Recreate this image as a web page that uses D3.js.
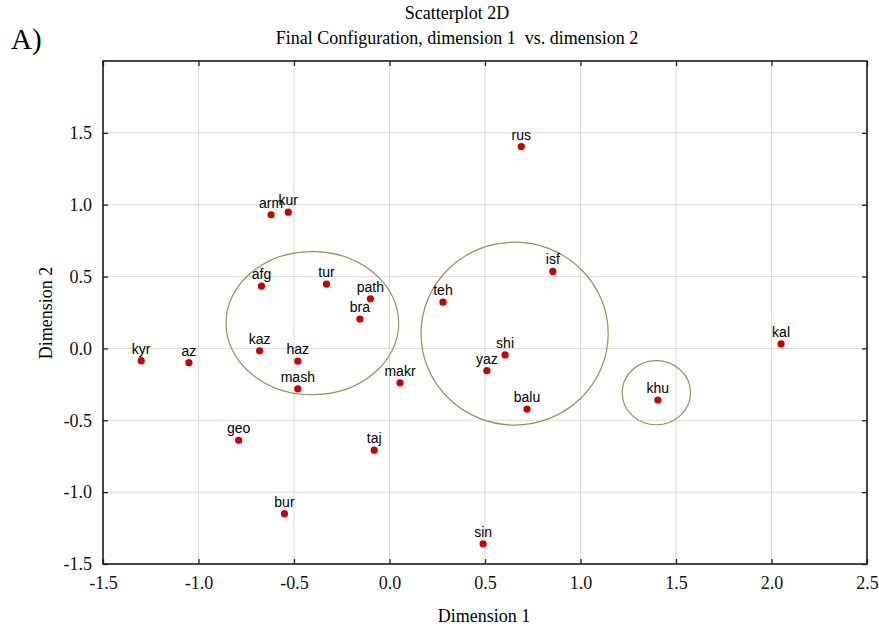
<!DOCTYPE html>
<html>
<head>
<meta charset="utf-8">
<script src="https://cdn.jsdelivr.net/npm/d3@7"></script>
<style>
  body { margin: 0; background: #fff; }
  svg { display: block; }
</style>
</head>
<body>
<script>
// point labels and coordinates
const names = ["rus", "arm", "kur", "afg", "tur", "path", "bra", "kaz", "haz", "mash",
               "makr", "kyr", "az", "geo", "taj", "bur", "sin", "teh", "isf", "shi",
               "yaz", "balu", "khu", "kal"];
const dim1 = [0.69, -0.62, -0.53, -0.67, -0.33, -0.10, -0.155, -0.68, -0.48, -0.48,
              0.055, -1.30, -1.05, -0.79, -0.08, -0.55, 0.49, 0.28, 0.855, 0.605,
              0.51, 0.72, 1.405, 2.05];
const dim2 = [1.405, 0.93, 0.948, 0.434, 0.448, 0.345, 0.204, -0.017, -0.089, -0.281,
              -0.239, -0.085, -0.099, -0.639, -0.708, -1.15, -1.359, 0.322, 0.536, -0.045,
              -0.155, -0.422, -0.359, 0.031];

// group ellipses (centre and radii in data units)
const groupCx = [-0.404, 0.655, 1.397];
const groupCy = [0.176, 0.103, -0.308];
const groupRx = [0.452, 0.490, 0.179];
const groupRy = [0.498, 0.636, 0.223];

const xTicks = [-1.5, -1.0, -0.5, 0.0, 0.5, 1.0, 1.5, 2.0, 2.5];
const yTicks = [-1.5, -1.0, -0.5, 0.0, 0.5, 1.0, 1.5];

const W = 879, H = 626;
const margin = { top: 61, right: 12, bottom: 62, left: 103 },
      width = 867 - margin.left,
      height = 564 - margin.top;

const svg = d3.select("body").append("svg")
    .attr("width", W)
    .attr("height", H);

const g = svg.append("g")
    .attr("transform", `translate(${margin.left},${margin.top})`);

const x = d3.scaleLinear().domain([-1.5, 2.5]).range([0, width]);
const y = d3.scaleLinear().domain([-1.5, 2.0]).range([height, 0]);

const serif = "'Liberation Serif', 'Times New Roman', serif";
const sans = "'Liberation Sans', Arial, sans-serif";
// plain hyphen for negatives, like the original
const fmt = d => d3.format(".1f")(d).replace("\u2212", "-");

// grid
g.append("g").selectAll("line")
    .data(xTicks.slice(1, -1))
    .join("line")
    .attr("x1", d => x(d)).attr("x2", d => x(d))
    .attr("y1", 0).attr("y2", height)
    .attr("stroke", "#dcdcdc").attr("stroke-width", 1);

g.append("g").selectAll("line")
    .data(yTicks.slice(1))
    .join("line")
    .attr("x1", 0).attr("x2", width)
    .attr("y1", d => y(d)).attr("y2", d => y(d))
    .attr("stroke", "#dcdcdc").attr("stroke-width", 1);

// axes with inward ticks
function styleAxis(sel) {
    sel.select(".domain").remove();
    sel.selectAll(".tick line").attr("stroke", "#222").attr("stroke-width", 1.3);
    sel.selectAll(".tick text")
        .style("font-family", serif)
        .style("font-size", "18px")
        .attr("fill", "#111");
}

g.append("g")
    .attr("transform", `translate(0,${height})`)
    .call(d3.axisBottom(x).tickValues(xTicks).tickFormat(fmt)
        .tickSizeInner(-5).tickSizeOuter(0).tickPadding(12))
    .call(styleAxis);

g.append("g")
    .call(d3.axisTop(x).tickValues(xTicks).tickFormat("")
        .tickSizeInner(-5).tickSizeOuter(0))
    .call(styleAxis);

g.append("g")
    .call(d3.axisLeft(y).tickValues(yTicks).tickFormat(fmt)
        .tickSizeInner(-5).tickSizeOuter(0).tickPadding(11))
    .call(styleAxis);

g.append("g")
    .attr("transform", `translate(${width},0)`)
    .call(d3.axisRight(y).tickValues(yTicks).tickFormat("")
        .tickSizeInner(-5).tickSizeOuter(0))
    .call(styleAxis);

// frame
g.append("rect")
    .attr("width", width).attr("height", height)
    .attr("fill", "none")
    .attr("stroke", "#1a1a1a")
    .attr("stroke-width", 1.6);

// ellipses
g.append("g").selectAll("ellipse")
    .data(groupCx)
    .join("ellipse")
    .attr("cx", d => x(d))
    .attr("cy", (d, i) => y(groupCy[i]))
    .attr("rx", (d, i) => x(groupRx[i]) - x(0))
    .attr("ry", (d, i) => y(0) - y(groupRy[i]))
    .attr("fill", "none")
    .attr("stroke", "#9c8d5e")
    .attr("stroke-width", 1.2);

// points
const pts = names.map((n, i) => ({ name: n, d1: dim1[i], d2: dim2[i] }));

g.append("g").selectAll("circle")
    .data(pts)
    .join("circle")
    .attr("cx", d => x(d.d1))
    .attr("cy", d => y(d.d2))
    .attr("r", 3.6)
    .attr("fill", "#cc0000");

g.append("g").selectAll("text")
    .data(pts)
    .join("text")
    .attr("x", d => x(d.d1))
    .attr("y", d => y(d.d2) - 7)
    .attr("text-anchor", "middle")
    .style("font-family", sans)
    .style("font-size", "14px")
    .attr("fill", "#000")
    .text(d => d.name);

// titles
svg.append("text")
    .attr("x", 457).attr("y", 19)
    .attr("text-anchor", "middle")
    .style("font-family", serif)
    .style("font-size", "18px")
    .text("Scatterplot 2D");

svg.append("text")
    .attr("x", 457).attr("y", 44)
    .attr("text-anchor", "middle")
    .style("font-family", serif)
    .style("font-size", "18px")
    .style("white-space", "pre")
    .text("Final Configuration, dimension 1  vs. dimension 2");

svg.append("text")
    .attr("x", 11).attr("y", 49)
    .style("font-family", serif)
    .style("font-size", "29px")
    .text("A)");

svg.append("text")
    .attr("x", 484).attr("y", 622)
    .attr("text-anchor", "middle")
    .style("font-family", serif)
    .style("font-size", "18px")
    .text("Dimension 1");

svg.append("text")
    .attr("transform", "translate(52,313) rotate(-90)")
    .attr("text-anchor", "middle")
    .style("font-family", serif)
    .style("font-size", "18px")
    .text("Dimension 2");
</script>
</body>
</html>
